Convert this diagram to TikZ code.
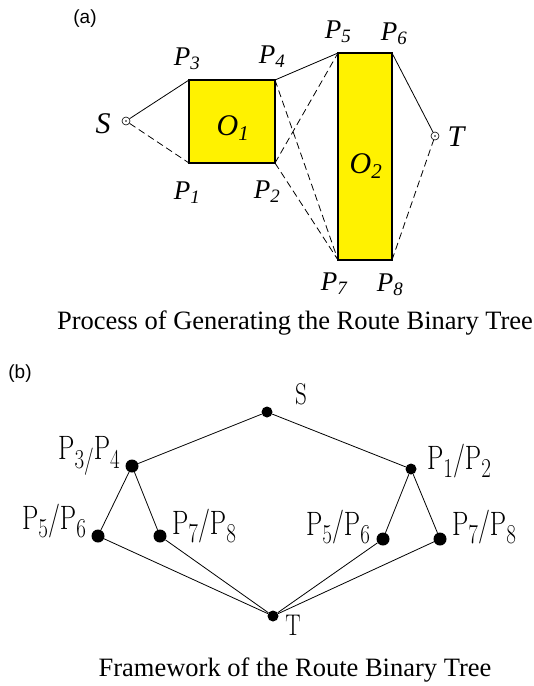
\documentclass[tikz,border=0pt]{standalone}
\usepackage{fontspec}
\setmainfont{Liberation Serif}
\newfontfamily\arialfont{Liberation Sans}
\newfontfamily\lmfont{Latin Modern Roman}
\usetikzlibrary{positioning}

\tikzset{
  obstacle/.style={draw, line width=1.2pt, fill=yellow},
  endpt/.style={circle, draw, line width=0.6pt, inner sep=0pt, minimum size=8pt},
  route/.style={line width=0.8pt},
  alt/.style={line width=0.8pt, dash pattern=on 7pt off 4pt},
  plab/.style={font=\fontsize{27}{30}\selectfont\itshape},
  biglab/.style={font=\fontsize{30}{33}\selectfont\itshape},
  treedot/.style={circle, fill=black, inner sep=0pt, minimum size=11pt},
  bigdot/.style={circle, fill=black, inner sep=0pt, minimum size=13pt},
  tlab/.style={font=\fontsize{26}{29}\selectfont\lmfont},
  rootlab/.style={font=\fontsize{23}{26}\selectfont\lmfont},
  caption/.style={font=\fontsize{26.5}{30}\selectfont},
  tag/.style={font=\fontsize{19}{22}\selectfont\arialfont}
}
\newcommand{\ip}[1]{P\textsubscript{#1}}
\newcommand{\tsub}[1]{\raisebox{-0.25em}{\fontsize{21}{24}\selectfont #1}}
\newcommand{\tall}[1]{\scalebox{1}[1.3]{#1}}
\newcommand{\pair}[2]{\tall{P\tsub{#1}/P\tsub{#2}}}

\begin{document}
\begin{tikzpicture}[x=1pt, y=-1pt]
    \useasboundingbox (0,0) rectangle (534,686);

    % (a) obstacles and routes
    \node[tag] (taga) at (85,19) {(a)};
    \draw[obstacle] (189,80) rectangle (275,163);
    \draw[obstacle] (338,53) rectangle (392,260);
    \coordinate (P1) at (189,163);
    \coordinate (P2) at (275,163);
    \coordinate (P3) at (189,80);
    \coordinate (P4) at (275,80);
    \coordinate (P5) at (338,53);
    \coordinate (P6) at (392,53);
    \coordinate (P7) at (338,260);
    \coordinate (P8) at (392,260);
    \node[endpt] (S) at (126,121) {};
    \node[endpt] (T) at (435,136) {};
    \fill (S) circle (0.8pt);
    \fill (T) circle (0.8pt);

    \draw[route] (S) -- (P3);
    \draw[alt] (S) -- (P1);
    \draw[route] (P4) -- (P5);
    \draw[alt] (P4) -- (P7);
    \draw[alt] (P2) -- (P5);
    \draw[alt] (P2) -- (P7);
    \draw[route] (P6) -- (T);
    \draw[alt] (P8) -- (T);

    \node[biglab] (labS) at (103,124) {S};
    \node[biglab] (labT) at (456,137) {T};
    \node[biglab] (labO1) at (233,128) {O\textsubscript{1}};
    \node[biglab] (labO2) at (366,166) {O\textsubscript{2}};
    \node[plab] (lab1) at (187,193) {\ip{1}};
    \node[plab] (lab2) at (267,192) {\ip{2}};
    \node[plab] (lab3) at (187,59) {\ip{3}};
    \node[plab] (lab4) at (272,57) {\ip{4}};
    \node[plab] (lab5) at (338,32) {\ip{5}};
    \node[plab] (lab6) at (394,34) {\ip{6}};
    \node[plab] (lab7) at (334,284) {\ip{7}};
    \node[plab] (lab8) at (390,285) {\ip{8}};

    \node[caption] (capa) at (295,323) {Process of Generating the Route Binary Tree};

    % (b) route binary tree
    \node[tag] (tagb) at (20,374) {(b)};
    \node[treedot] (rS) at (267,412) {};
    \node[bigdot] (a34) at (132,466) {};
    \node[treedot] (b12) at (411,469) {};
    \node[bigdot] (a56) at (98,536) {};
    \node[bigdot] (a78) at (160,536) {};
    \node[bigdot] (b56) at (383,539) {};
    \node[bigdot] (b78) at (440,539) {};
    \node[treedot] (rT) at (273,616) {};

    \draw[route] (rS) -- (a34);
    \draw[route] (rS) -- (b12);
    \draw[route] (a34) -- (a56);
    \draw[route] (a34) -- (a78);
    \draw[route] (b12) -- (b56);
    \draw[route] (b12) -- (b78);
    \foreach \leaf in {a56,a78,b56,b78}
      \draw[route] (\leaf) -- (rT);

    \node[rootlab] (tS) at (301,394) {\tall{S}};
    \node[rootlab] (tT) at (293,625) {\tall{T}};
    \node[tlab] (t34) at (89,456) {\tall{P\tsub{3/}P\tsub{4}}};
    \node[tlab] (t12) at (459,461) {\pair{1}{2}};
    \node[tlab] (ta56) at (54,521) {\pair{5}{6}};
    \node[tlab] (ta78) at (204,526) {\pair{7}{8}};
    \node[tlab] (tb56) at (338,527) {\pair{5}{6}};
    \node[tlab] (tb78) at (484,527) {\pair{7}{8}};

    \node[caption] (capb) at (295,670) {Framework of the Route Binary Tree};
\end{tikzpicture}
\end{document}
